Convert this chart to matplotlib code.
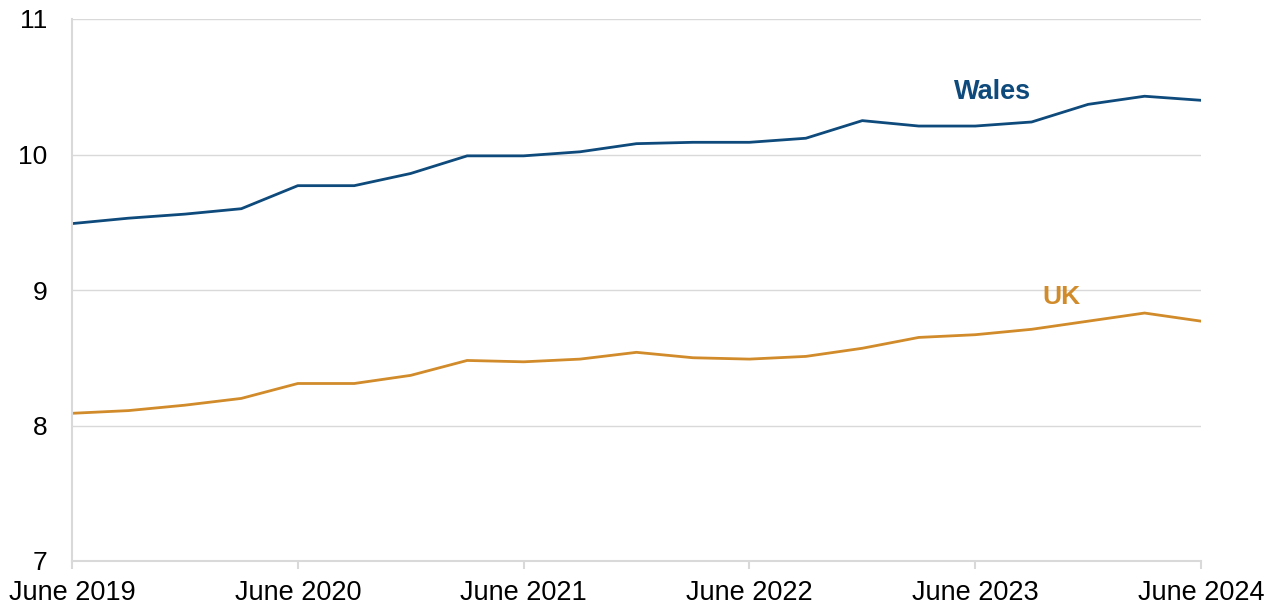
import matplotlib
matplotlib.use("Agg")
import matplotlib.pyplot as plt

plt.rcParams['font.family'] = ['Liberation Sans', 'DejaVu Sans']

quarters = list(range(21))
tick_positions = [0, 4, 8, 12, 16, 20]
tick_labels = ["June 2019", "June 2020", "June 2021", "June 2022", "June 2023", "June 2024"]

wales = [9.49, 9.53, 9.56, 9.60, 9.77, 9.77, 9.86, 9.99, 9.99, 10.02, 10.08,
         10.09, 10.09, 10.12, 10.25, 10.21, 10.21, 10.24, 10.37, 10.43, 10.40]
uk = [8.09, 8.11, 8.15, 8.20, 8.31, 8.31, 8.37, 8.48, 8.47, 8.49, 8.54,
      8.50, 8.49, 8.51, 8.57, 8.65, 8.67, 8.71, 8.77, 8.83, 8.77]

wales_color = '#0E4A7B'
uk_color = '#D18B2A'
grid_color = '#D9D9D9'

fig = plt.figure(figsize=(12.8, 6.07), dpi=100)
ax = fig.add_axes([72/1280, 1-561/607, (1201-72)/1280, (561-19)/607])

ax.plot(quarters, wales, color=wales_color, lw=2.0, solid_joinstyle='round')
ax.plot(quarters, uk, color=uk_color, lw=2.0, solid_joinstyle='round')

ax.set_xlim(0, 20)
ax.set_ylim(7, 11)
ax.set_yticks([7, 8, 9, 10, 11])
ax.set_yticklabels(["7", "8", "9", "10", "11"])
ax.set_xticks(tick_positions)
ax.set_xticklabels(tick_labels)

ax.grid(axis='y', color=grid_color, lw=1)
ax.set_axisbelow(True)
for s in ['top', 'right']:
    ax.spines[s].set_visible(False)
for s in ['left', 'bottom']:
    ax.spines[s].set_color(grid_color)
    ax.spines[s].set_linewidth(1.5)

ax.tick_params(axis='y', length=0, pad=18, labelsize=19, labelcolor='#000000')
ax.tick_params(axis='x', length=6, width=1.5, color=grid_color, pad=8,
               labelsize=19.5, labelcolor='#000000')

ax.text(16.3, 10.46, "Wales", color=wales_color, fontsize=19.5, fontweight='bold',
        ha='center', va='center')
ax.text(17.53, 8.95, "UK", color=uk_color, fontsize=19, fontweight='bold',
        ha='center', va='center')

fig.savefig("out.png", dpi=100)
